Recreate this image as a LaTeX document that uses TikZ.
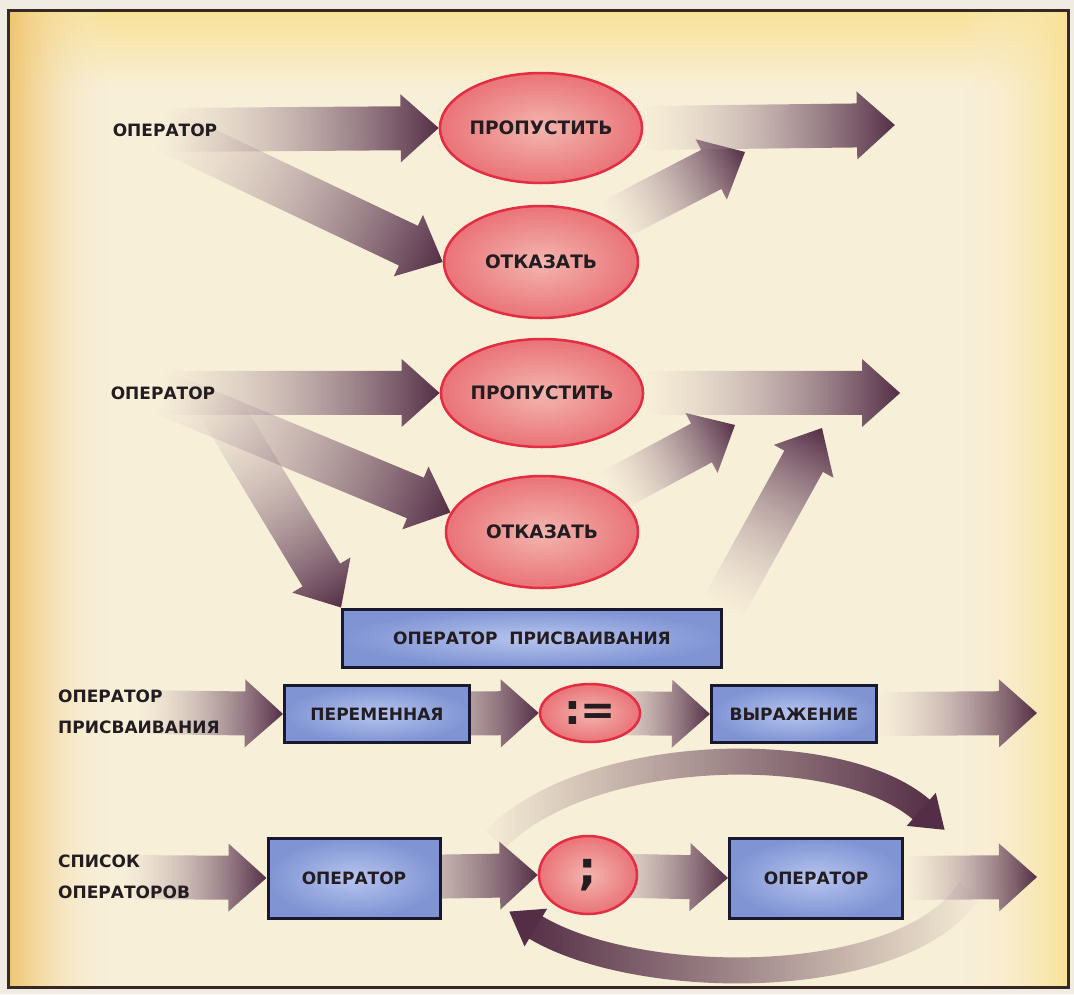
\documentclass[tikz,border=0pt]{standalone}
\usepackage{fontspec}
\setmainfont{DejaVu Sans}
\usetikzlibrary{shapes.geometric, fadings}

\definecolor{paper}{RGB}{240,236,228}
\definecolor{bgleft}{RGB}{240,196,110}
\definecolor{bgmid}{RGB}{248,239,216}
\definecolor{bgtop}{RGB}{248,226,150}
\definecolor{framec}{RGB}{55,40,35}
\definecolor{arrowdark}{RGB}{84,46,70}
\definecolor{arrowlight}{RGB}{190,170,180}
\definecolor{ovalin}{RGB}{243,182,175}
\definecolor{ovalout}{RGB}{234,115,120}
\definecolor{ovalline}{RGB}{226,45,66}
\definecolor{boxin}{RGB}{182,196,238}
\definecolor{boxout}{RGB}{128,148,212}
\definecolor{boxline}{RGB}{25,25,45}
\definecolor{textc}{RGB}{35,28,32}

\tikzfading[name=arrowfade, left color=transparent!100, middle color=transparent!30, right color=transparent!0]
\tikzfading[name=arrowfadel, left color=transparent!0, middle color=transparent!30, right color=transparent!100]

\pgfdeclarelayer{paper}
\pgfdeclarelayer{arrows}
\pgfsetlayers{paper,arrows,main}

% direction and length from one named point to another
\newcommand\getdir[2]{%
  \pgfpointdiff{\pgfpointanchor{#1}{center}}{\pgfpointanchor{#2}{center}}%
  \pgfgetlastxy\dirx\diry
  \pgfmathsetmacro\dirang{atan2(\diry,\dirx)}%
  \pgfmathsetmacro\dirlen{veclen(\dirx,\diry)}%
}

% fat faded arrow, tip at #2
\newcommand\fatarrow[2]{%
  \path (#1) coordinate (fa-s) (#2) coordinate (fa-e);
  \getdir{fa-s}{fa-e}%
  \pgfmathsetmacro\fabase{\dirlen-38}%
  \begin{scope}[transform canvas={shift={(fa-s)},rotate=\dirang}]
    \shade[arrowbody] (0pt,-22pt) -- (\fabase pt,-22pt) -- (\fabase pt,-34pt)
      -- (\dirlen pt,0pt) -- (\fabase pt,34pt) -- (\fabase pt,22pt) -- (0pt,22pt) -- cycle;
  \end{scope}
}

% head for the curved arrows, base at #2
\newcommand\fathead[2]{%
  \getdir{#1}{#2}%
  \begin{scope}[transform canvas={shift={(#2)},rotate=\dirang}]
    \fill[arrowdark] (-1pt,-22pt) -- (30pt,0pt) -- (-1pt,22pt) -- cycle;
  \end{scope}
}

\begin{document}
\begin{tikzpicture}[x=1pt, y=-1pt,
    lbl/.style={font=\fontsize{17}{31}\selectfont\bfseries, text=textc, align=left, inner sep=0pt},
    oval/.style={ellipse, draw=ovalline, line width=2.5pt, inner color=ovalin, outer color=ovalout,
      text=textc, font=\fontsize{18.5}{20}\selectfont\bfseries, inner sep=0pt},
    bluebox/.style={rectangle, draw=boxline, line width=3pt, inner color=boxin, outer color=boxout,
      text=textc, font=\fontsize{17}{20}\selectfont\bfseries, inner sep=0pt},
    arrowbody/.style={left color=arrowlight, right color=arrowdark, path fading=arrowfade}]
  \useasboundingbox (0,0) rectangle (1074,994);

  \begin{pgfonlayer}{paper}
    \fill[paper] (0,0) rectangle (1074,994);
    \fill[bgmid] (8,10) rectangle (1068,987);
    \shade[top color=bgtop, bottom color=bgmid] (8,10) rectangle (1068,90);
    \shade[left color=bgleft, right color=bgmid, path fading=arrowfadel] (8,10) rectangle (110,987);
    \shade[left color=bgmid, right color=bgtop, path fading=arrowfade] (960,10) rectangle (1068,987);
  \end{pgfonlayer}

  % first picture
  \node[lbl] (op1) at (165,130) {ОПЕРАТОР};
  \node[oval, minimum width=194pt, minimum height=110pt] (skip1) at (541,128) {ПРОПУСТИТЬ};
  \node[oval, minimum width=194pt, minimum height=112pt] (deny1) at (541,262) {ОТКАЗАТЬ};
  \coordinate (out1) at (895,125);
  \coordinate (j1) at (745,152);

  % second picture
  \node[lbl] (op2) at (163,393) {ОПЕРАТОР};
  \node[oval, minimum width=192pt, minimum height=108pt] (skip2) at (542,393) {ПРОПУСТИТЬ};
  \node[oval, minimum width=192pt, minimum height=112pt] (deny2) at (542,532) {ОТКАЗАТЬ};
  \node[bluebox, minimum width=379pt, minimum height=58pt] (asg) at (532,638) {ОПЕРАТОР\ \ ПРИСВАИВАНИЯ};
  \coordinate (out2) at (900,393);
  \coordinate (j2) at (735,425);
  \coordinate (j3) at (822,428);

  % assignment
  \node[lbl, anchor=west] (asgl) at (58,712) {ОПЕРАТОР\\ПРИСВАИВАНИЯ};
  \node[bluebox, minimum width=185pt, minimum height=57pt] (var) at (377,714) {ПЕРЕМЕННАЯ};
  \node[oval, minimum width=100pt, minimum height=58pt, font=\fontsize{42}{42}\selectfont\bfseries] (assign) at (590,713) {:=};
  \node[bluebox, minimum width=165pt, minimum height=57pt] (expr) at (794,714) {ВЫРАЖЕНИЕ};
  \coordinate (out3) at (1037,713);

  % statement list
  \node[lbl, anchor=west] (lst) at (58,877) {СПИСОК\\ОПЕРАТОРОВ};
  \node[bluebox, minimum width=172pt, minimum height=80pt] (st1) at (354,878) {ОПЕРАТОР};
  \node[oval, minimum width=98pt, minimum height=78pt, font=\fontsize{46}{46}\selectfont\bfseries] (semi) at (588,875) {;};
  \node[bluebox, minimum width=173pt, minimum height=80pt] (st2) at (816,878) {ОПЕРАТОР};
  \coordinate (out4) at (1037,877);

  \coordinate (ta0) at (495,840);
  \coordinate (ta1) at (585,745);
  \coordinate (ta2) at (840,738);
  \coordinate (ta3) at (922,810);
  \coordinate (ba0) at (970,890);
  \coordinate (ba1) at (905,990);
  \coordinate (ba2) at (640,990);
  \coordinate (ba3) at (535,927);

  \begin{pgfonlayer}{arrows}
    \fatarrow{deny1.north east}{j1}
    \fatarrow{op1}{skip1.west}
    \fatarrow{op1}{deny1.west}
    \fatarrow{skip1.east}{out1}

    \fatarrow{deny2.north east}{j2}
    \fatarrow{asg.north east}{j3}
    \fatarrow{op2}{skip2.west}
    \fatarrow{op2}{deny2.168}
    \fatarrow{op2.south east}{asg.north west}
    \fatarrow{skip2.east}{out2}

    \fatarrow{asgl}{var.west}
    \fatarrow{var}{assign.west}
    \fatarrow{assign}{expr.west}
    \fatarrow{expr.east}{out3}

    \draw[line width=26pt, arrowdark, path fading=arrowfade] (ta0) .. controls (ta1) and (ta2) .. (ta3);
    \fathead{ta2}{ta3}
    \draw[line width=26pt, arrowdark, path fading=arrowfadel] (ba0) .. controls (ba1) and (ba2) .. (ba3);
    \fathead{ba2}{ba3}
    \fatarrow{lst}{st1.west}
    \fatarrow{st1}{semi.west}
    \fatarrow{semi}{st2.west}
    \fatarrow{st2.east}{out4}
  \end{pgfonlayer}

  \draw[framec, line width=3pt] (8,10) rectangle (1068,987);
\end{tikzpicture}
\end{document}
